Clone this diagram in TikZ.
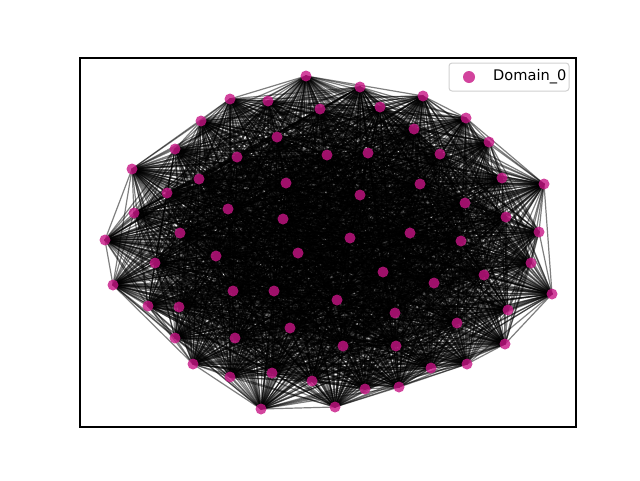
\documentclass[tikz,border=0pt]{standalone}
\usepackage{fontspec}
\setmainfont{DejaVu Sans}
\pgfdeclarelayer{bg}
\pgfsetlayers{bg,main}
\definecolor{dotc}{RGB}{199,21,133}
\tikzset{
  dot/.style={circle, fill=dotc, fill opacity=0.8, draw=none, inner sep=0pt, minimum size=11},
  edge/.style={draw=black, draw opacity=0.5, line width=1.2},
  frame/.style={draw=black, line width=1.1},
  legbox/.style={draw=black!18, line width=1, rounded corners=3, fill=white, inner sep=0pt, minimum width=120, minimum height=28}
}
\begin{document}
\begin{tikzpicture}[x=1pt,y=-1pt]
\useasboundingbox (0,0) rectangle (640,480);
\foreach \x/\y [count=\k] in {306/76,360/87,423/96,230/99,268/101,320/109,380/107,466/118,201/121,414/129,
  277/137,489/142,175/149,237/157,327/155,368/153,440/154,132/169,199/179,286/183,
  502/178,544/184,420/184,167/193,360/195,465/203,134/213,228/209,283/219,506/217,
  539/232,180/233,410/233,350/238,105/240,461/241,216/256,298/253,155/263,531/263,
  383/272,484/275,113/285,434/283,233/291,274/291,552/294,148/306,179/307,337/300,
  508/310,395/313,457/323,290/328,235/338,175/338,505/344,343/346,396/346,193/364,
  272/373,467/364,431/368,230/377,312/381,399/387,365/389,335/407,261/409}
  \node[dot] (n\k) at (\x,\y) {};
\pgfmathsetseed{4242}
\begin{pgfonlayer}{bg}
\foreach \i in {1,...,68}{
  \pgfmathtruncatemacro\jstart{\i+1}
  \foreach \j in {\jstart,...,69}{
    \pgfmathsetmacro\r{rnd}
    \ifdim\r pt<0.95pt \draw[edge] (n\i.center) -- (n\j.center);\fi
  }
}
\end{pgfonlayer}
\node[frame, inner sep=0pt, minimum width=496, minimum height=369] (axes) at (328,242.5) {};
\node[legbox] (legend) at (509,77) {};
\node[dot, minimum size=12] (legdot) at (469,77) {};
\node[anchor=west, font=\fontsize{14.6}{17}\selectfont, inner sep=0pt] (legtext) at (493,77) {Domain\_0};
\end{tikzpicture}
\end{document}
